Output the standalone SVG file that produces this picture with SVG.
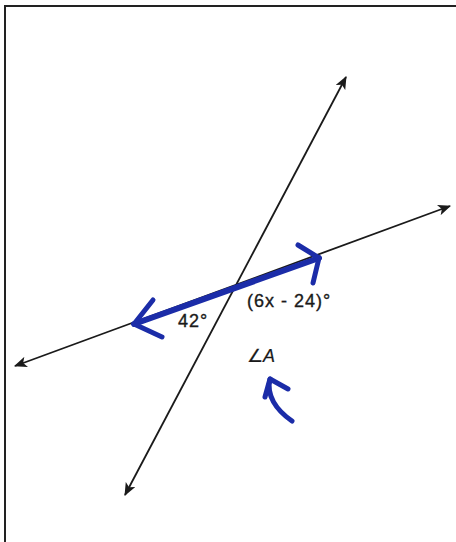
<svg xmlns="http://www.w3.org/2000/svg" width="456" height="542" viewBox="0 0 456 542">
<defs>
<style>
.ln{stroke:#1a1a1a;stroke-width:1.8;fill:none}
.bl{stroke:#1b2ca8;stroke-linecap:round;stroke-linejoin:round;fill:none}
.lbl{font-family:"Liberation Sans",Arial,sans-serif;font-size:18px;fill:#1a1a1a;stroke:#1a1a1a;stroke-width:0.35;letter-spacing:1px}
</style>
<marker id="ah" viewBox="0 0 12 10" refX="11" refY="5" markerWidth="13" markerHeight="11" markerUnits="userSpaceOnUse" orient="auto-start-reverse">
<path d="M0,0 L12,5 L0,10 L3,5 Z" fill="#1a1a1a"/>
</marker>
</defs>
<rect width="456" height="542" fill="#ffffff"/>
<g id="frame">
<path d="M5,542 L5,6 L456,6" stroke="#222" stroke-width="2" fill="none"/>
</g>
<g id="connectors">
<line id="line1" class="ln" x1="125" y1="495" x2="346" y2="77" marker-start="url(#ah)" marker-end="url(#ah)"/>
<line id="line2" class="ln" x1="15" y1="366" x2="450" y2="206" marker-start="url(#ah)" marker-end="url(#ah)"/>
</g>
<g id="highlight">
<path class="bl" stroke-width="6" d="M134,324 L319,258"/>
<path class="bl" stroke-width="5" d="M153,300 L134,324 L162,337"/>
<path class="bl" stroke-width="5" d="M298,245 L319,258 L313,283"/>
</g>
<g id="labels">
<text class="lbl" x="178" y="327">42°</text>
<text class="lbl" x="247" y="307">(6x - 24)°</text>
<text class="lbl" x="247" y="362" style="letter-spacing:0;stroke-width:0.2"><tspan>∠</tspan><tspan font-style="italic">A</tspan></text>
</g>
<g id="pointer">
<path class="bl" stroke-width="5" d="M270,379 C266,395 276,410 292,421"/>
<path class="bl" stroke-width="5" d="M265,397 L270,379 L288,389"/>
</g>
</svg>
